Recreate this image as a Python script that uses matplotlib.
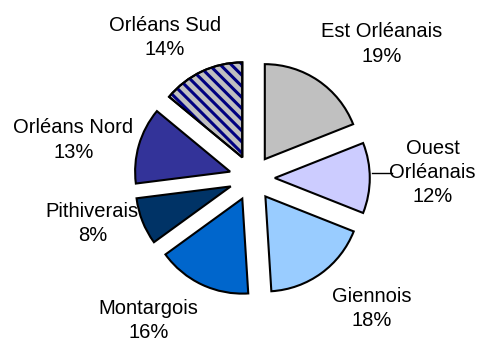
import matplotlib.pyplot as plt
from matplotlib.patches import Wedge

plt.rcParams['font.family'] = ['Liberation Sans', 'DejaVu Sans']
plt.rcParams['hatch.linewidth'] = 2.2

regions = ['Est Orléanais', 'Ouest\nOrléanais', 'Giennois', 'Montargois',
           'Pithiverais', 'Orléans Nord', 'Orléans Sud']
shares = [19, 12, 18, 16, 8, 13, 14]
colors = ['#c0c0c0', '#ccccff', '#99ccff', '#0066cc', '#003366', '#333399', '#c0c0c0']

# label centres in data units (pie radius = 1)
label_pos = [(1.37, 1.41), (1.90, 0.06), (1.26, -1.37), (-1.09, -1.50),
             (-1.68, -0.48), (-1.88, 0.40), (-0.92, 1.48)]

fig = plt.figure(figsize=(4.81, 3.41), dpi=100)
ax = fig.add_axes([0, 0, 1, 1])

wedges, _ = ax.pie(shares, colors=colors, startangle=90, counterclock=False,
                   explode=[0.24] * len(shares),
                   wedgeprops=dict(edgecolor='black', linewidth=1.5))

# striped slice: navy hatching over grey, black outline on top
w = wedges[-1]
ax.add_patch(Wedge(w.center, w.r, w.theta1, w.theta2, facecolor='none',
                   edgecolor='#000080', hatch='\\\\\\', linewidth=0))
ax.add_patch(Wedge(w.center, w.r, w.theta1, w.theta2, facecolor='none',
                   edgecolor='black', linewidth=1.5))

for name, val, (x, y) in zip(regions, shares, label_pos):
    ax.text(x, y, f'{name}\n{val}%', ha='center', va='center',
            fontsize=14.5, linespacing=1.35)

# leader line for the Ouest label
ax.plot([1.26, 1.47], [0.053, 0.053], color='black', linewidth=1)

ax.set_xlim(-2.653, 2.411)
ax.set_ylim(-1.716, 1.874)
ax.set_aspect('equal')
ax.axis('off')

fig.savefig('out.png', dpi=100)
